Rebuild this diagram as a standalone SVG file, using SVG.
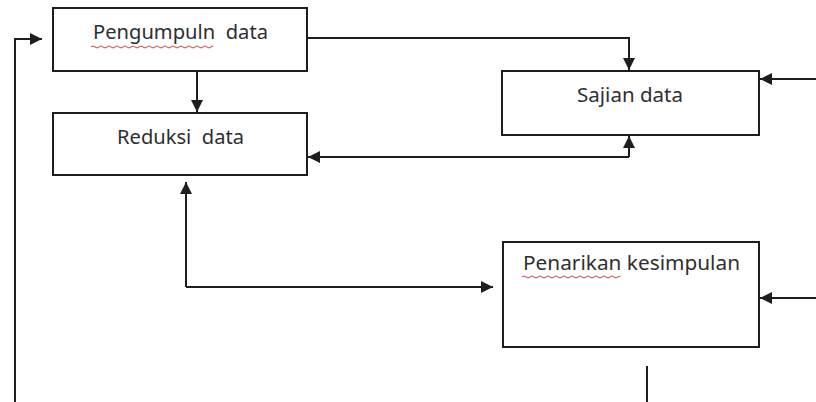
<svg xmlns="http://www.w3.org/2000/svg" width="816" height="402" viewBox="0 0 816 402">
  <style>
    .box { fill: #fff; stroke: #1e1e1e; stroke-width: 2; }
    .lbl { font-family: "Noto Sans", "Open Sans", sans-serif; font-size: 20px; fill: #2e2e30; }
    .wire { fill: none; stroke: #1e1e1e; stroke-width: 2; }
    .squig { fill: none; stroke: #d04040; stroke-width: 1; }
  </style>
  <defs>
    <marker id="ah" viewBox="0 0 10 10" refX="10" refY="5" markerWidth="6" markerHeight="6" markerUnits="strokeWidth" orient="auto">
      <path d="M0,0 L10,5 L0,10 Z" fill="#1e1e1e"/>
    </marker>
  </defs>
  <rect width="816" height="402" fill="#fff"/>

  <g id="connectors">
    <!-- feedback loop from the bottom up into the first box -->
    <path class="wire" d="M15,402 V39 H42" marker-end="url(#ah)"/>
    <!-- Pengumpuln -> Reduksi -->
    <path class="wire" d="M197,71 V112" marker-end="url(#ah)"/>
    <!-- Pengumpuln -> Sajian -->
    <path class="wire" d="M307,38 H629 V70" marker-end="url(#ah)"/>
    <!-- Sajian <-> Reduksi -->
    <path class="wire" d="M629,157 V136" marker-end="url(#ah)"/>
    <path class="wire" d="M629,157 H308" marker-end="url(#ah)"/>
    <!-- Reduksi <-> Penarikan -->
    <path class="wire" d="M186,287 V182" marker-end="url(#ah)"/>
    <path class="wire" d="M186,287 H493" marker-end="url(#ah)"/>
    <!-- inputs from the right edge -->
    <path class="wire" d="M816,79 H760" marker-end="url(#ah)"/>
    <path class="wire" d="M816,298 H760" marker-end="url(#ah)"/>
    <!-- stub below Penarikan -->
    <path class="wire" d="M647,366 V402"/>
  </g>

  <g id="pengumpulan">
    <rect class="box" x="53" y="8" width="254" height="63"/>
    <text class="lbl" x="93" y="39" textLength="175" lengthAdjust="spacingAndGlyphs" xml:space="preserve">Pengumpuln  data</text>
    <path class="squig" d="M91,47 q2,-2 4,0 t4,0 t4,0 t4,0 t4,0 t4,0 t4,0 t4,0 t4,0 t4,0 t4,0 t4,0 t4,0 t4,0 t4,0 t4,0 t4,0 t4,0 t4,0 t4,0 t4,0 t4,0 t4,0 t4,0 t4,0 t4,0 t4,0 t4,0 t4,0 t4,0 t2,0"/>
  </g>

  <g id="reduksi">
    <rect class="box" x="53" y="113" width="254" height="62"/>
    <text class="lbl" x="117" y="144" textLength="127" lengthAdjust="spacingAndGlyphs" xml:space="preserve">Reduksi  data</text>
  </g>

  <g id="sajian">
    <rect class="box" x="502" y="71" width="257" height="64"/>
    <text class="lbl" x="577" y="102" textLength="106" lengthAdjust="spacingAndGlyphs">Sajian data</text>
  </g>

  <g id="penarikan">
    <rect class="box" x="503" y="242" width="256" height="105"/>
    <text class="lbl" x="523" y="270" textLength="217" lengthAdjust="spacingAndGlyphs">Penarikan kesimpulan</text>
    <path class="squig" d="M522,277 q2,-2 4,0 t4,0 t4,0 t4,0 t4,0 t4,0 t4,0 t4,0 t4,0 t4,0 t4,0 t4,0 t4,0 t4,0 t4,0 t4,0 t4,0 t4,0 t4,0 t4,0 t4,0 t4,0 t4,0 t4,0 t2,0"/>
  </g>
</svg>
